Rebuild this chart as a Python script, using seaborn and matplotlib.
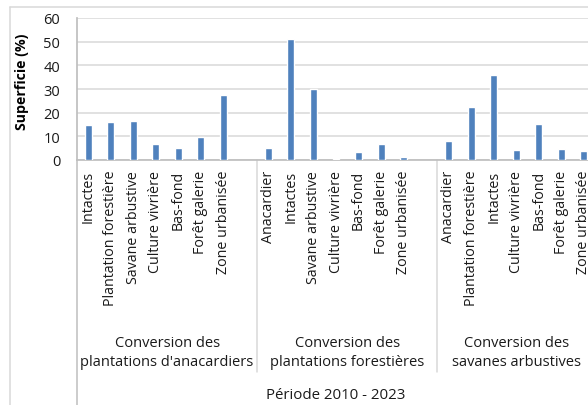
import matplotlib
matplotlib.use("Agg")
import matplotlib.pyplot as plt
import matplotlib.transforms as mtransforms
import numpy as np
import pandas as pd
import seaborn as sns

# Land-cover change categories per conversion type (2010 - 2023)
groups = [
    "Conversion des\nplantations d'anacardiers",
    "Conversion des\nplantations forestières",
    "Conversion des\nsavanes arbustives",
]
cats_anacardiers = ["Intactes", "Plantation forestière", "Savane arbustive",
                    "Culture vivrière", "Bas-fond", "Forêt galerie", "Zone urbanisée"]
vals_anacardiers = [14.8, 16.1, 16.5, 6.8, 4.9, 9.7, 27.5]

cats_forestieres = ["Anacardier", "Intactes", "Savane arbustive",
                    "Culture vivrière", "Bas-fond", "Forêt galerie", "Zone urbanisée"]
vals_forestieres = [4.9, 51.2, 29.9, 0.3, 3.4, 6.8, 1.1]

cats_savanes = ["Anacardier", "Plantation forestière", "Intactes",
                "Culture vivrière", "Bas-fond", "Forêt galerie", "Zone urbanisée"]
vals_savanes = [8.0, 22.4, 35.9, 4.4, 15.2, 4.5, 3.7]

period_label = "Période 2010 - 2023"
y_label = "Superficie (%)"
y_ticks = [0, 10, 20, 30, 40, 50, 60]

# Build one row per category slot; an empty slot separates the groups
rows = []
for g, (cats, vals) in enumerate([(cats_anacardiers, vals_anacardiers),
                                  (cats_forestieres, vals_forestieres),
                                  (cats_savanes, vals_savanes)]):
    for c, v in zip(cats, vals):
        rows.append({"slot": f"{g}|{c}", "label": c, "value": v, "group": g})
    if g < 2:
        rows.append({"slot": f"{g}|", "label": "", "value": np.nan, "group": g})
df = pd.DataFrame(rows)
slots = list(df["slot"])

sns.set_theme(style="white")
plt.rcParams["font.family"] = ["Open Sans", "DejaVu Sans"]

W, H = 588, 406
fig = plt.figure(figsize=(W / 100, H / 100), dpi=100)
fig.patch.set_facecolor("white")

x0, x1, ytop, ybot = 77, 595, 19, 161
ax = fig.add_axes([x0 / W, 1 - ybot / H, (x1 - x0) / W, (ybot - ytop) / H])

sns.barplot(data=df, x="slot", y="value", order=slots, color="#4f81bd",
            saturation=1, width=0.31, ax=ax, zorder=3)

grid_c = "#d9d9d9"
axis_c = "#bfbfbf"
ax.set_ylim(0, 60)
ax.set_yticks(y_ticks)
ax.set_xlim(-0.5, len(slots) - 0.5)
ax.yaxis.grid(True, color=grid_c, lw=1.1, zorder=0)
ax.set_axisbelow(True)
ax.xaxis.set_zorder(5)
ax.set_xlabel("")
ax.set_ylabel(y_label, fontsize=10.2, fontweight="bold", color="black")
ax.yaxis.set_label_coords((29 - x0) / (x1 - x0), (ybot - 82) / (ybot - ytop))
for s in ["top", "right"]:
    ax.spines[s].set_visible(False)
ax.spines["left"].set_color(axis_c)
ax.spines["bottom"].set_color(axis_c)

ax.set_xticks(range(len(slots)))
ax.set_xticklabels(df["label"], rotation=90, ha="center", va="top",
                   fontsize=10.3, color="#1a1a1a")
ax.tick_params(axis="x", direction="in", length=3, width=1, color="#e6e6e6",
               pad=7)
ax.tick_params(axis="y", direction="out", length=0, labelsize=10.5, pad=12)
for t in ax.get_yticklabels():
    t.set_color("#1a1a1a")

# Group separators and group names below the tick labels
blend = mtransforms.blended_transform_factory(ax.transData, fig.transFigure)
ax.plot([-0.5, -0.5], [1 - ybot / H, 0], color=axis_c, lw=1.1,
        transform=blend, clip_on=False)
for xs in [7.5, 15.5]:
    ax.plot([xs, xs], [1 - ybot / H, 1 - 373 / H], color=grid_c, lw=1.1,
            transform=blend, clip_on=False)
for cx, g in zip([3.5, 11.5, 19.0], groups):
    ax.text(cx, 1 - 353 / H, g, transform=blend, ha="center", va="center",
            fontsize=10.5, linespacing=1.37, color="#1a1a1a")
ax.text((len(slots) - 1) / 2, 1 - 396 / H, period_label, transform=blend,
        ha="center", va="center", fontsize=10.8, color="#1a1a1a")

# Chart frame
fig.add_artist(plt.Line2D([10 / W, 10 / W], [0, 1 - 8 / H], color=grid_c,
                          lw=1.1, transform=fig.transFigure))
fig.add_artist(plt.Line2D([10 / W, 1], [1 - 8 / H, 1 - 8 / H], color=grid_c,
                          lw=1.1, transform=fig.transFigure))

fig.savefig("out.png", dpi=100)
